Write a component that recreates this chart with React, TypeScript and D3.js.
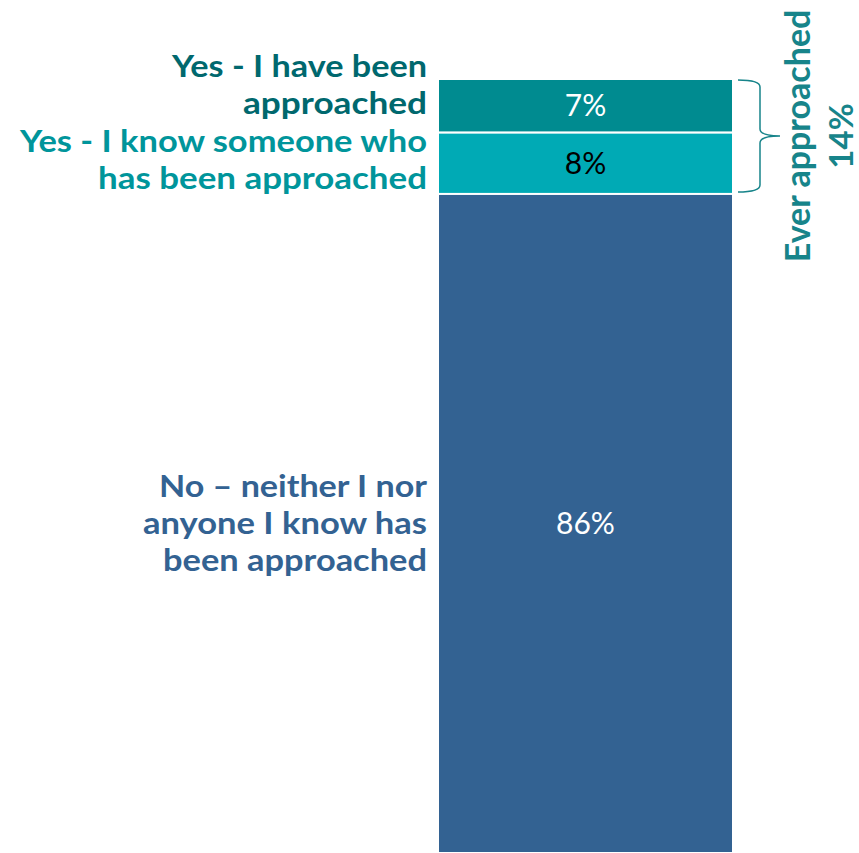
import React from "react";
import * as d3 from "d3";

const categories = ["Yes - I have been approached", "Yes - I know someone who has been approached", "No – neither I nor anyone I know has been approached"];
const labelLines = [
  ["Yes - I have been", "approached"],
  ["Yes - I know someone who", "has been approached"],
  ["No – neither I nor", "anyone I know has", "been approached"],
];
const values = [7, 8, 86];
const valueLabels = ["7%", "8%", "86%"];
const bracketTitle = "Ever approached";
const bracketValue = "14%";

// layout / style
const segColors = ["#008B90", "#00AAB5", "#336292"];
const labelColors = ["#00686E", "#00959B", "#336292"];
const valueColors = ["#ffffff", "#000000", "#ffffff"];
const labelShift = [-21, -4, 0];
const lineWidths = [
  [255, 184],
  [407, 329],
  [268, 284, 264],
];
const bracketColor = "#17848A";

const W = 859;
const H = 853;

export default function App() {
  const total = d3.sum(values);
  const y = d3.scaleLinear().domain([0, total]).range([79, H]);
  const x = d3.scaleBand().domain(["all"]).range([438, 733]).padding(0);
  const stack: { start: number; end: number }[] = [];
  let acc = 0;
  values.forEach((v) => {
    stack.push({ start: acc, end: acc + v });
    acc += v;
  });
  const bx = x("all") as number;
  const bw = x.bandwidth();
  const lh = 37;
  const capH = 22;
  const font = "Lato, 'Open Sans', sans-serif";

  const bTop = y(stack[0].start) + 1;
  const bBot = y(stack[1].end) - 2;
  const bMid = (bTop + bBot) / 2;
  const x0 = bx + bw + 5;
  const x1 = x0 + 22;
  const x2 = x1 + 20;
  const r = 7;
  const bracketPath = d3.path();
  bracketPath.moveTo(x0, bTop);
  bracketPath.quadraticCurveTo(x1, bTop, x1, bTop + r);
  bracketPath.lineTo(x1, bMid - r);
  bracketPath.quadraticCurveTo(x1, bMid, x2, bMid);
  bracketPath.quadraticCurveTo(x1, bMid, x1, bMid + r);
  bracketPath.lineTo(x1, bBot - r);
  bracketPath.quadraticCurveTo(x1, bBot, x0, bBot);

  return (
    <svg width={W} height={H} style={{ position: "absolute", left: 0, top: 0, background: "#fff" }}>
      {stack.map((s, i) => (
        <rect
          key={"r" + i}
          x={bx}
          y={y(s.start)}
          width={bw}
          height={y(s.end) - y(s.start)}
          fill={segColors[i]}
          stroke="#ffffff"
          strokeWidth={2}
        />
      ))}
      {stack.map((s, i) => {
        const cy = (y(s.start) + Math.min(y(s.end), H)) / 2;
        return (
          <text
            key={"v" + i}
            x={bx + bw / 2}
            y={cy + 10.5}
            textAnchor="middle"
            fontFamily={font}
            fontSize={30}
            fill={valueColors[i]}
          >
            {valueLabels[i]}
          </text>
        );
      })}
      {stack.map((s, i) => {
        const cy = (y(s.start) + y(s.end)) / 2 + labelShift[i];
        const lines = labelLines[i];
        return (
          <g key={"l" + i}>
            <title>{categories[i]}</title>
            {lines.map((ln, j) => (
              <text
                key={j}
                x={427}
                y={cy - ((lines.length - 1) * lh) / 2 + j * lh + capH / 2}
                textAnchor="end"
                fontFamily={font}
                fontWeight={700}
                fontSize={31}
                fill={labelColors[i]}
                textLength={lineWidths[i][j]}
                lengthAdjust="spacingAndGlyphs"
              >
                {ln}
              </text>
            ))}
          </g>
        );
      })}
      <path d={bracketPath.toString()} fill="none" stroke={bracketColor} strokeWidth={1.5} />
      <text
        transform={`translate(810,${bMid}) rotate(-90)`}
        textAnchor="middle"
        fontFamily={font}
        fontWeight={700}
        fontSize={34}
        fill={bracketColor}
      >
        {bracketTitle}
      </text>
      <text
        transform={`translate(853,${bMid}) rotate(-90)`}
        textAnchor="middle"
        fontFamily={font}
        fontWeight={700}
        fontSize={33}
        fill={bracketColor}
      >
        {bracketValue}
      </text>
    </svg>
  );
}
